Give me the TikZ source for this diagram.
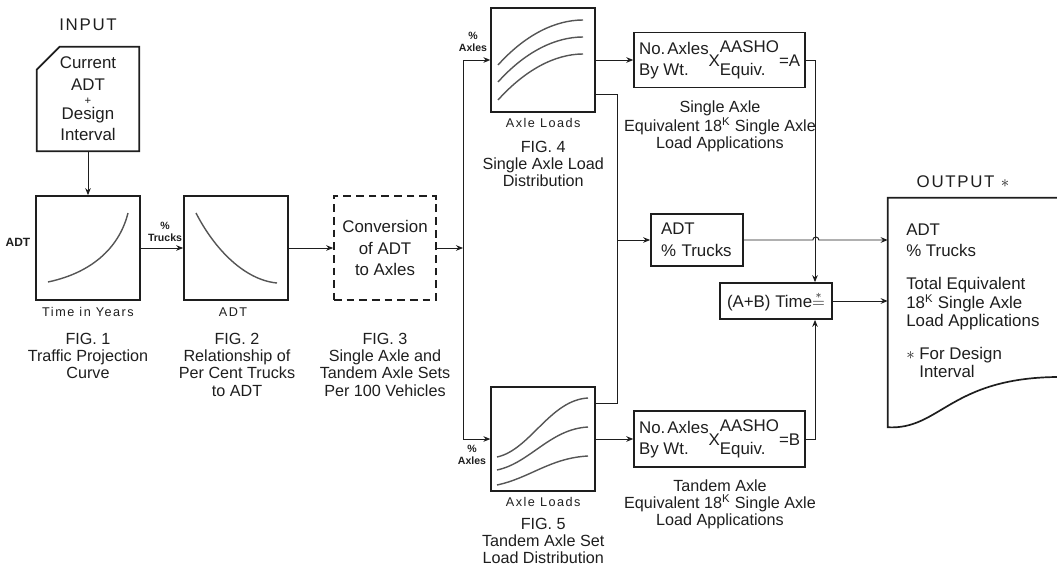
\documentclass[tikz,border=0pt]{standalone}
\usepackage{fontspec}
\setmainfont{Liberation Sans}
\usepackage{tikz}
\usetikzlibrary{arrows.meta, positioning, calc}
\definecolor{mydark}{RGB}{30,30,30}
\definecolor{mygray}{RGB}{85,85,85}
\newcommand{\capfont}{\fontsize{11.5}{12.2}\selectfont}
\newcommand{\lblfont}{\fontsize{9}{10}\selectfont\addfontfeature{LetterSpace=12}}
\newcommand{\tagfont}{\fontsize{7.5}{8.5}\selectfont\bfseries}
\newcommand{\axlecalc}[1]{%
  \begin{tabular}{@{}l@{}}No.\hspace{1.5pt}Axles\\By Wt.\end{tabular}%
  \raisebox{-1pt}{X}%
  \raisebox{1pt}{\begin{tabular}{@{}l@{}}AASHO\\[1pt]Equiv.\end{tabular}}%
  \raisebox{-1pt}{=#1}}
\tikzset{
  boxline/.style={draw=mydark, line width=1.2pt},
  plotbox/.style={rectangle, draw=mydark, line width=1.2pt,
    minimum width=2.6cm, minimum height=2.6cm, inner sep=0pt},
  convbox/.style={plotbox, dash pattern=on 5.5pt off 3.5pt, align=center},
  calcbox/.style={rectangle, draw=mydark, line width=1.2pt, inner sep=2pt},
  plotcurve/.style={draw=mygray, line width=1pt},
  figcap/.style={anchor=north, inner sep=0pt, align=center, font=\capfont},
  axlbl/.style={font=\lblfont, inner sep=0pt},
  tag/.style={font=\tagfont, align=center, inner sep=0pt},
  arrow/.style={-{Stealth[length=5pt, width=4pt]}, line width=0.7pt, color=mydark},
  line/.style={line width=0.7pt, color=mydark}
}

\begin{document}
\begin{tikzpicture}[font=\fontsize{12}{15.6}\selectfont, text=mydark]
  \useasboundingbox (0,0) rectangle (26.425,14.275);

  \node[font=\fontsize{12}{14}\selectfont\addfontfeature{LetterSpace=10}] (inlbl) at (2.2,13.65) {INPUT};
  \node[align=center, minimum width=2.55cm, minimum height=2.6cm, inner sep=0pt] (input) at (2.2,11.8)
    {Current\\ADT\\[-5.5pt]{\footnotesize +}\\[-5.5pt]Design\\Interval};
  \draw[boxline] (input.south west) -- (input.south east) -- (input.north east)
    -- ([xshift=0.575cm]input.north west) -- ([yshift=-0.575cm]input.north west) -- cycle;

  \node[plotbox] (fig1) at (2.2,8.075) {};
  \draw[plotcurve] (1.2,7.225) .. controls (2.375,7.475) and (3.0,8.15) .. (3.2,8.95);
  \node[tag, font=\fontsize{8.5}{9}\selectfont\bfseries] (fig1y) at (0.45,8.225) {ADT};
  \node[axlbl] (fig1x) at (2.2,6.475) {Time in Years};
  \node[figcap] (cap1) at (2.2,5.95) {FIG. 1\\Traffic Projection\\Curve};

  \node[plotbox] (fig2) at (5.9,8.075) {};
  \draw[plotcurve] (4.9,8.95) .. controls (5.375,8.025) and (6.125,7.275) .. (6.925,7.2);
  \node[axlbl] (fig2x) at (5.825,6.475) {ADT};
  \node[figcap] (cap2) at (5.925,5.95) {FIG. 2\\Relationship of\\Per Cent Trucks\\to ADT};
  \node[tag] (trk) at (4.125,8.475) {\%\\Trucks};

  \node[convbox, minimum width=2.55cm] (conv) at (9.625,8.075) {Conversion\\of ADT\\to Axles};
  \node[figcap] (cap3) at (9.625,5.95) {FIG. 3\\Single Axle and\\Tandem Axle Sets\\Per 100 Vehicles};

  \draw[arrow] (input) -- (fig1);
  \draw[arrow] (fig1) -- (fig2);
  \draw[arrow] (fig2) -- (conv);

  \coordinate (split) at (11.575,8.075);
  \coordinate (splittop) at (11.575,12.775);
  \coordinate (splitbot) at (11.575,3.3);
  \draw[line] (splittop) -- (splitbot);
  \draw[arrow] (conv) -- (split);

  \node[plotbox] (fig4) at (13.58,12.775) {};
  \draw[plotcurve] (12.45,12.65) .. controls (13.125,13.4) and (13.875,13.775) .. (14.575,13.775);
  \draw[plotcurve] (12.45,12.225) .. controls (13.125,12.975) and (13.875,13.35) .. (14.575,13.35);
  \draw[plotcurve] (12.45,11.775) .. controls (13.125,12.525) and (13.875,12.925) .. (14.575,12.925);
  \node[tag] (ax4) at (11.825,13.225) {\%\\Axles};
  \node[axlbl] (fig4x) at (13.58,11.2) {Axle Loads};
  \node[figcap] (cap4) at (13.58,10.75) {FIG. 4\\Single Axle Load\\Distribution};

  \node[plotbox] (fig5) at (13.58,3.3) {};
  \draw[plotcurve] (12.425,2.85) .. controls (13.25,3.025) and (13.75,4.275) .. (14.7,4.325);
  \draw[plotcurve] (12.425,2.525) .. controls (13.25,2.7) and (13.75,3.55) .. (14.7,3.6);
  \draw[plotcurve] (12.425,2.15) .. controls (13.25,2.325) and (13.75,2.825) .. (14.7,2.875);
  \node[tag] (ax5) at (11.8,2.9) {\%\\Axles};
  \node[axlbl] (fig5x) at (13.58,1.725) {Axle Loads};
  \node[figcap] (cap5) at (13.58,1.325) {FIG. 5\\Tandem Axle Set\\Load Distribution};

  \draw[arrow] (splittop) -- (fig4);
  \draw[arrow] (splitbot) -- (fig5);

  \coordinate (tap) at (15.425,8.275);
  \draw[line] ([yshift=-0.85cm]fig4.east) -| (tap) |- ([yshift=0.9cm]fig5.east);

  \node[calcbox, minimum width=2.3cm, minimum height=1.3cm, text width=1.8cm,
    inner xsep=0.25cm, align=left] (adt) at (17.425,8.275) {ADT\\\% Trucks};
  \draw[arrow] (tap) -- (adt);

  \node[calcbox, minimum width=4.275cm, minimum height=1.375cm, font=\fontsize{12}{15}\selectfont] (abox) at (17.99,12.775) {\axlecalc{A}};
  \node[figcap] (acap) at (18.0,11.75) {Single Axle\\Equivalent 18\textsuperscript{K} Single Axle\\Load Applications};
  \draw[arrow] (fig4) -- (abox);

  \node[calcbox, minimum width=4.275cm, minimum height=1.4cm, font=\fontsize{12}{15}\selectfont] (bbox) at (17.99,3.3) {\axlecalc{B}};
  \node[figcap] (bcap) at (18.0,2.3) {Tandem Axle\\Equivalent 18\textsuperscript{K} Single Axle\\Load Applications};
  \draw[arrow] (fig5) -- (bbox);

  \node[calcbox, minimum width=2.8cm, minimum height=0.9cm] (sumbox) at (19.4,6.75) {(A+B) Time$\stackrel{\ast}{=}$};
  \draw[arrow] (abox) -| ([xshift=0.975cm]sumbox.north);
  \draw[arrow] (bbox) -| ([xshift=0.975cm]sumbox.south);

  \node[minimum width=4.225cm, minimum height=5.725cm, inner sep=0pt] (outbox) at (24.3125,6.4625) {};
  \draw[boxline] (outbox.north east) -- (outbox.north west) -- (outbox.south west)
    .. controls (23.5,3.525) and (23.75,4.825) .. (26.425,4.85);
  \node[font=\fontsize{12}{14}\selectfont\addfontfeature{LetterSpace=10}] (outlbl) at (24.075,9.725) {OUTPUT $\ast$};
  \node[anchor=north west, inner sep=0pt, align=left, font=\fontsize{12}{13}\selectfont] (outtxt) at (22.65,8.675)
    {ADT\\[2pt]\% Trucks\\[10.4pt]Total Equivalent\\18\textsuperscript{K} Single Axle\\Load Applications\\[10.4pt]$\ast$ For Design\\\hphantom{$\ast$ }Interval};

  \draw[arrow] (adt.east) -- ++(1.725,0) arc[start angle=180, end angle=0, radius=0.075] -- (adt.east -| outbox.west);
  \draw[arrow] (sumbox) -- (sumbox -| outbox.west);
\end{tikzpicture}
\end{document}
